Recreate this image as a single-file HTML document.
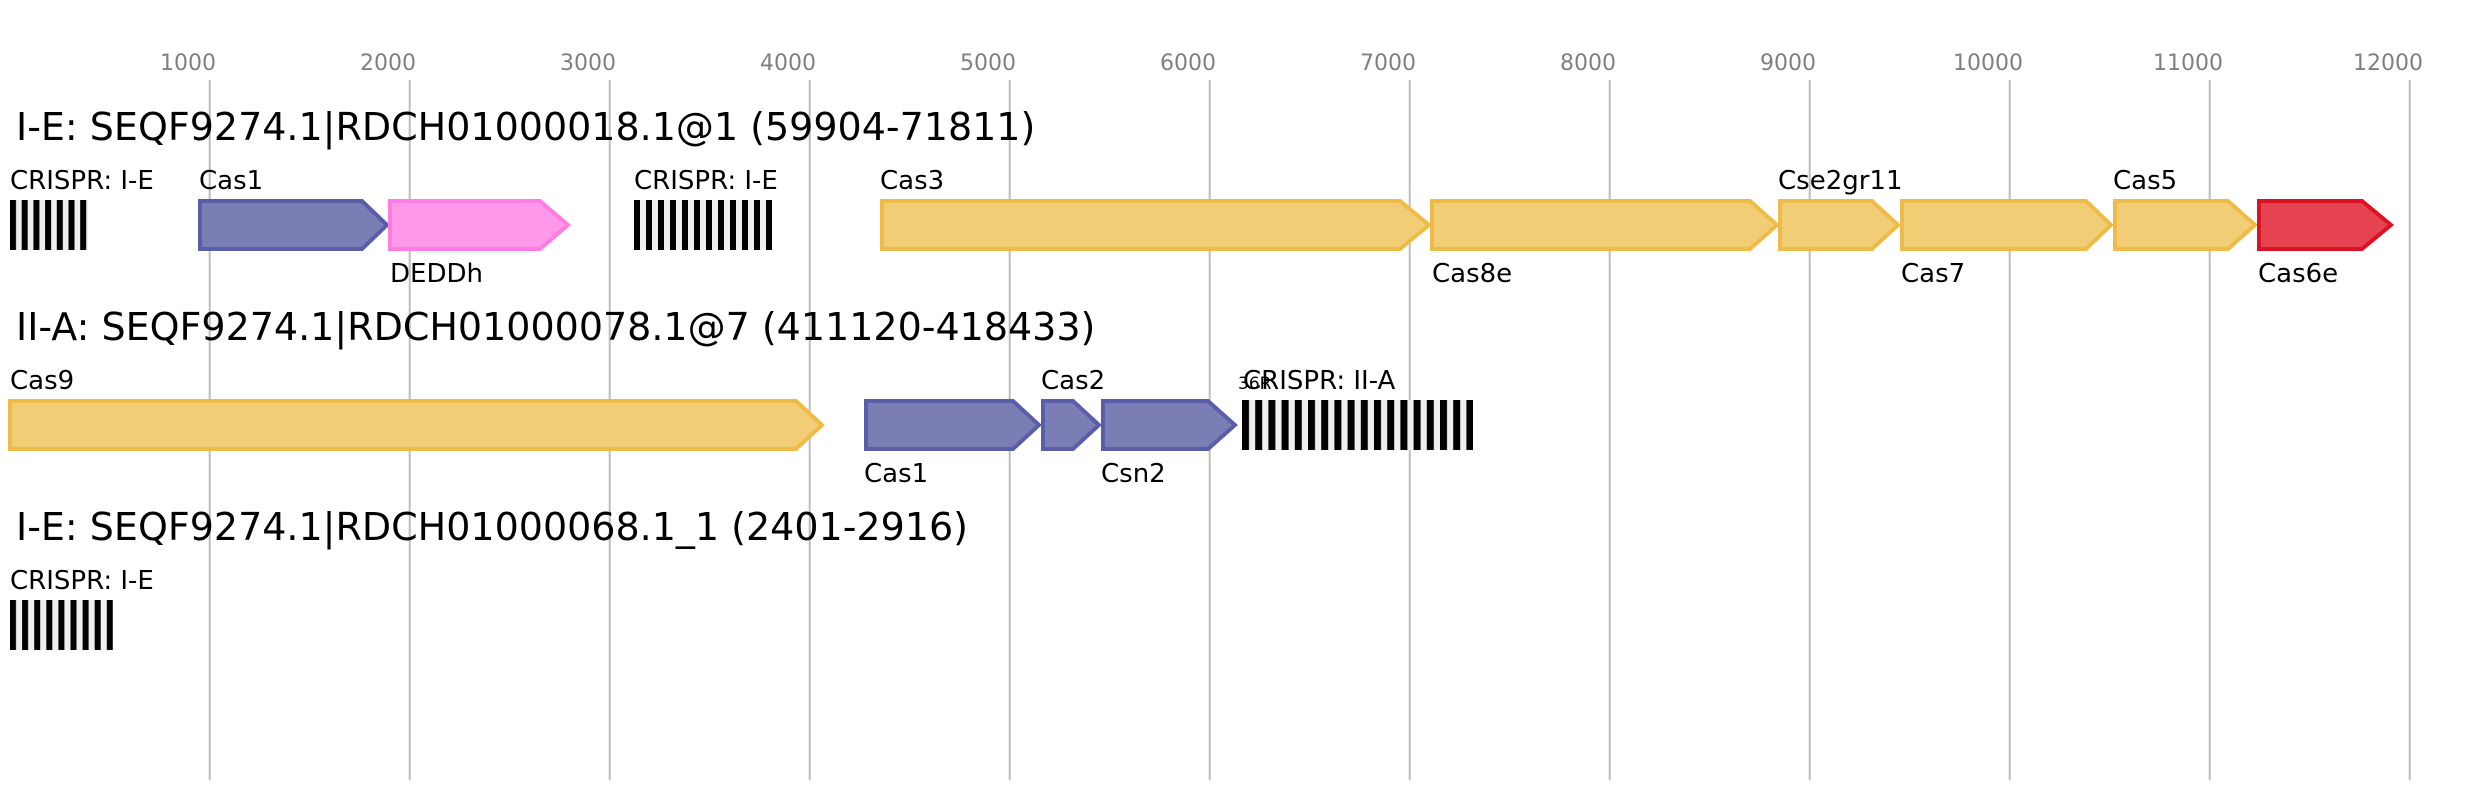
<!DOCTYPE html>
<html><head><meta charset="utf-8"><style>
html,body{margin:0;padding:0;background:#fff;}
svg{display:block;font-family:"DejaVu Sans","Liberation Sans",sans-serif;}
</style></head><body>
<svg width="2481" height="800" viewBox="0 0 2481 800" xmlns="http://www.w3.org/2000/svg">
<defs>
<pattern id="p1" patternUnits="userSpaceOnUse" x="10" y="0" width="11.7" height="800"><rect x="0" y="0" width="6" height="800" fill="#000"/></pattern>
<pattern id="p2" patternUnits="userSpaceOnUse" x="634" y="0" width="12" height="800"><rect x="0" y="0" width="6" height="800" fill="#000"/></pattern>
<pattern id="p3" patternUnits="userSpaceOnUse" x="1242" y="0" width="13.2" height="800"><rect x="0" y="0" width="7" height="800" fill="#000"/></pattern>
<pattern id="p4" patternUnits="userSpaceOnUse" x="10" y="0" width="12.1" height="800"><rect x="0" y="0" width="6" height="800" fill="#000"/></pattern>
</defs>
<g stroke="#bdbdbd" stroke-width="2">
<line x1="209.7" y1="80" x2="209.7" y2="780"/><line x1="409.7" y1="80" x2="409.7" y2="780"/><line x1="609.7" y1="80" x2="609.7" y2="780"/><line x1="809.7" y1="80" x2="809.7" y2="780"/><line x1="1009.7" y1="80" x2="1009.7" y2="780"/><line x1="1209.7" y1="80" x2="1209.7" y2="780"/><line x1="1409.7" y1="80" x2="1409.7" y2="780"/><line x1="1609.7" y1="80" x2="1609.7" y2="780"/><line x1="1809.7" y1="80" x2="1809.7" y2="780"/><line x1="2009.7" y1="80" x2="2009.7" y2="780"/><line x1="2209.7" y1="80" x2="2209.7" y2="780"/><line x1="2409.7" y1="80" x2="2409.7" y2="780"/>
</g>
<g fill="#808080" font-size="22" text-anchor="middle">
<text x="188" y="70">1000</text><text x="388" y="70">2000</text><text x="588" y="70">3000</text><text x="788" y="70">4000</text><text x="988" y="70">5000</text><text x="1188" y="70">6000</text><text x="1388" y="70">7000</text><text x="1588" y="70">8000</text><text x="1788" y="70">9000</text><text x="1988" y="70">10000</text><text x="2188" y="70">11000</text><text x="2388" y="70">12000</text>
</g>
<g font-size="38" fill="#000">
<text x="16" y="140">I-E: SEQF9274.1|RDCH01000018.1@1 (59904-71811)</text>
<text x="16" y="340">II-A: SEQF9274.1|RDCH01000078.1@7 (411120-418433)</text>
<text x="16" y="540">I-E: SEQF9274.1|RDCH01000068.1_1 (2401-2916)</text>
</g>
<rect x="10" y="200" width="78" height="50" fill="#efefef"/><rect x="10" y="200" width="78" height="50" fill="url(#p1)"/>
<rect x="634" y="200" width="138" height="50" fill="#efefef"/><rect x="634" y="200" width="138" height="50" fill="url(#p2)"/>
<rect x="1242" y="400" width="231" height="50" fill="#efefef"/><rect x="1242" y="400" width="231" height="50" fill="url(#p3)"/>
<rect x="10" y="600" width="103" height="50" fill="#efefef"/><rect x="10" y="600" width="103" height="50" fill="url(#p4)"/>
<g stroke-width="4" stroke-linejoin="miter">
<polygon points="200,201 362,201 387,225 362,249 200,249" fill="#7b7db5" stroke="#5a5ea8"/>
<polygon points="390,201 540,201 568,225 540,249 390,249" fill="#fe98e9" stroke="#fe7ce3"/>
<polygon points="882,201 1400,201 1429,225 1400,249 882,249" fill="#f1cd75" stroke="#efbb47"/>
<polygon points="1432,201 1750,201 1777,225 1750,249 1432,249" fill="#f1cd75" stroke="#efbb47"/>
<polygon points="1780,201 1872,201 1898,225 1872,249 1780,249" fill="#f1cd75" stroke="#efbb47"/>
<polygon points="1902,201 2086,201 2111,225 2086,249 1902,249" fill="#f1cd75" stroke="#efbb47"/>
<polygon points="2115,201 2228,201 2255,225 2228,249 2115,249" fill="#f1cd75" stroke="#efbb47"/>
<polygon points="2259,201 2362,201 2391,225 2362,249 2259,249" fill="#e4434f" stroke="#dc1124"/>
<polygon points="10,401 796,401 822,425 796,449 10,449" fill="#f1cd75" stroke="#efbb47"/>
<polygon points="866,401 1013,401 1039,425 1013,449 866,449" fill="#7b7db5" stroke="#5a5ea8"/>
<polygon points="1043,401 1073,401 1099,425 1073,449 1043,449" fill="#7b7db5" stroke="#5a5ea8"/>
<polygon points="1103,401 1208,401 1235,425 1208,449 1103,449" fill="#7b7db5" stroke="#5a5ea8"/>
</g>
<g font-size="26" fill="#000">
<text x="10" y="189">CRISPR: I-E</text>
<text x="199" y="189">Cas1</text>
<text x="390" y="282">DEDDh</text>
<text x="634" y="189">CRISPR: I-E</text>
<text x="880" y="189">Cas3</text>
<text x="1432" y="282">Cas8e</text>
<text x="1778" y="189">Cse2gr11</text>
<text x="1901" y="282">Cas7</text>
<text x="2113" y="189">Cas5</text>
<text x="2258" y="282">Cas6e</text>
<text x="10" y="389">Cas9</text>
<text x="864" y="482">Cas1</text>
<text x="1041" y="389">Cas2</text>
<text x="1101" y="482">Csn2</text>
<text x="1243" y="389">CRISPR: II-A</text>
<text x="10" y="589">CRISPR: I-E</text>
</g>
<text x="1238" y="389" font-size="17" fill="#000">36R</text>
</svg>
</body></html>
